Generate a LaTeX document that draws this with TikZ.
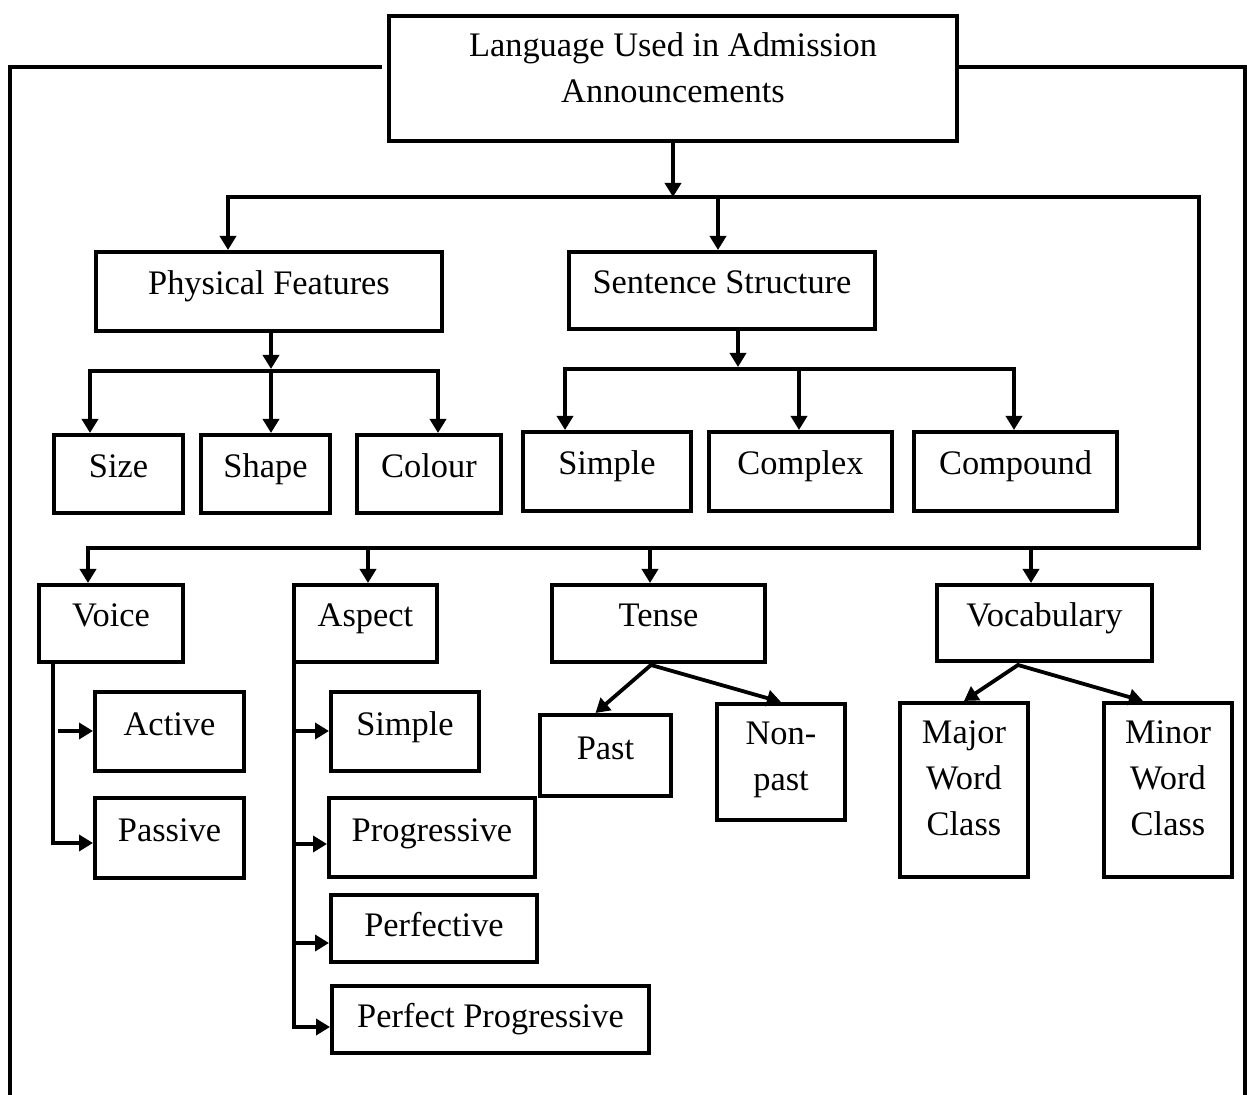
\documentclass[tikz,border=0pt]{standalone}
\usepackage{fontspec}
\setmainfont{Liberation Serif}
\usetikzlibrary{arrows.meta}
\begin{document}
\begin{tikzpicture}[x=0.5pt, y=-0.5pt,
  ln/.style={line width=1.9pt},
  arr/.style={ln, -{Triangle[width=8pt,length=7pt]}},
  dbl/.style={ln, {Triangle[width=8pt,length=7pt]}-{Triangle[width=8pt,length=7pt]}},
  bxe/.style={draw, line width=2pt, inner sep=0pt},
  bx/.style={bxe, font=\fontsize{17.2pt}{23pt}\selectfont, text height=11pt, text depth=7.5pt},
  bxlow/.style={bx, text height=14pt, text depth=6pt},
  mtx/.style={align=center, inner sep=0pt, font=\fontsize{17.2pt}{23pt}\selectfont},
]
\useasboundingbox (0,0) rectangle (1247,1095);

% ---- boxes ----
\node[bxe, minimum width=284pt, minimum height=62.5pt] (top) at (673,78.5) {};
\node[mtx] (toptext) at ([yshift=5.6pt]top.center) {Language Used in Admission\\Announcements};

\node[bx, minimum width=173pt, minimum height=39.5pt] (pf) at (269,291.5) {Physical Features};
\node[bx, minimum width=153pt, minimum height=38.5pt] (ss) at (722,290.5) {Sentence Structure};

\node[bx, minimum width=64.5pt, minimum height=39pt] (size) at (118.5,474) {Size};
\node[bx, minimum width=64.5pt, minimum height=39pt] (shape) at (265.5,474) {Shape};
\node[bx, minimum width=72pt, minimum height=39pt] (colour) at (429,474) {Colour};

\node[bx, minimum width=84pt, minimum height=39.5pt] (simple1) at (607,471.5) {Simple};
\node[bx, minimum width=91.5pt, minimum height=39.5pt] (complex) at (800.5,471.5) {Complex};
\node[bx, minimum width=101.5pt, minimum height=39.5pt] (compound) at (1015.5,471.5) {Compound};

\node[bx, minimum width=72pt, minimum height=38.5pt] (voice) at (111,623.5) {Voice};
\node[bx, minimum width=71.5pt, minimum height=38.5pt] (aspect) at (365.5,623.5) {Aspect};
\node[bx, minimum width=106.5pt, minimum height=38.5pt] (tense) at (658.5,623.5) {Tense};
\node[bx, minimum width=107.5pt, minimum height=38pt] (vocab) at (1044.5,623) {Vocabulary};

\node[bx, minimum width=74.5pt, minimum height=39.5pt] (active) at (169.5,731.5) {Active};
\node[bx, minimum width=74.5pt, minimum height=40pt] (passive) at (169.5,838) {Passive};

\node[bx, minimum width=74pt, minimum height=39.5pt] (asimple) at (405,731.5) {Simple};
\node[bx, minimum width=103pt, minimum height=39.5pt] (prog) at (432,837.5) {Progressive};
\node[bxlow, minimum width=103pt, minimum height=33.5pt] (perfective) at (434,928.5) {Perfective};
\node[bxlow, minimum width=158.5pt, minimum height=33.5pt] (perfprog) at (490.5,1019.5) {Perfect Progressive};

\node[bx, minimum width=65.5pt, minimum height=40.5pt] (past) at (605.5,755.5) {Past};
\node[bxe, minimum width=64pt, minimum height=58pt] (nonpast) at (781,762) {};
\node[mtx] (nonpasttext) at ([yshift=0.85pt]nonpast.center) {Non-\\past};

\node[bxe, minimum width=64pt, minimum height=87pt] (major) at (964,790) {};
\node[mtx] (majortext) at ([yshift=5.9pt]major.center) {Major\\Word\\Class};
\node[bxe, minimum width=64pt, minimum height=87pt] (minor) at (1168,790) {};
\node[mtx] (minortext) at ([yshift=5.9pt]minor.center) {Minor\\Word\\Class};

% ---- outer frame ----
\coordinate (o1) at (382,67);
\coordinate (o2) at (10,1095);
\coordinate (o3) at (1245,1095);
\draw[ln] (o1) -| (o2);
\draw[ln] (o1 -| top.east) -| (o3);

% ---- main bus ----
\coordinate (b1) at (228,197);
\coordinate (b2) at (1199,197);
\coordinate (b3) at (1199,548);
\coordinate (b4) at (88,548);
\coordinate (b5) at (718,197);
\coordinate (c2) at (368,548);
\coordinate (c3) at (650,548);
\coordinate (c4) at (1031,548);
\draw[arr] (top.south) -- (top.south |- b1);
\draw[dbl] (b1 |- pf.north) -- (b1) -- (b2) -- (b3) -- (b4) -- (b4 |- voice.north);
\draw[arr] (b5) -- (b5 |- ss.north);
\draw[arr] (c2) -- (c2 |- aspect.north);
\draw[arr] (c3) -- (c3 |- tense.north);
\draw[arr] (c4) -- (c4 |- vocab.north);

% ---- physical features ----
\coordinate (p0) at (271,371);
\coordinate (p1) at (90,371);
\coordinate (p2) at (438,371);
\draw[arr] (p0 |- pf.south) -- ([yshift=1pt]p0);
\draw[dbl] (p1 |- size.north) -- (p1) -- (p2) -- (p2 |- colour.north);
\draw[arr] (p0) -- (p0 |- shape.north);

% ---- sentence structure ----
\coordinate (s0) at (738,369);
\coordinate (s1) at (565,369);
\coordinate (s2) at (1014,369);
\coordinate (s3) at (799,369);
\draw[arr] (s0 |- ss.south) -- ([yshift=1pt]s0);
\draw[dbl] (s1 |- simple1.north) -- (s1) -- (s2) -- (s2 |- compound.north);
\draw[arr] (s3) -- (s3 |- complex.north);

% ---- voice ----
\coordinate (vx) at (53,843);
\coordinate (va) at (58,731);
\draw[arr] (vx |- voice.south) -- (vx) -- (vx -| passive.west);
\draw[arr] (va) -- (va -| active.west);

% ---- aspect ----
\coordinate (a1) at (294,731);
\coordinate (a2) at (294,844);
\coordinate (a3) at (294,943);
\coordinate (a4) at (294,1027);
\draw[arr] (a4 |- aspect.south) -- (a4) -- (a4 -| perfprog.west);
\draw[arr] (a1) -- (a1 -| asimple.west);
\draw[arr] (a2) -- (a2 -| prog.west);
\draw[arr] (a3) -- (a3 -| perfective.west);

% ---- tense ----
\coordinate (tap) at (651,665);
\draw[dbl] ([xshift=-5pt]past.north) -- (tap) -- (nonpast.north);

% ---- vocabulary ----
\coordinate (vap) at (1018,665);
\draw[dbl] (major.north) -- (vap) -- ([xshift=-12.5pt]minor.north);
\end{tikzpicture}
\end{document}
